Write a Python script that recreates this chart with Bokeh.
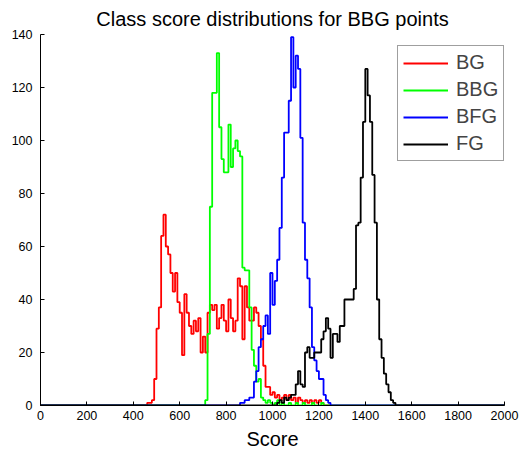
import numpy as np
from bokeh.plotting import figure
from bokeh.models import Range1d, FixedTicker, Legend, LegendItem
from bokeh.embed import file_html
from bokeh.resources import INLINE

# ---- data (histogram counts, bin width 10) ----
bin_width = 10
x_ticks = list(range(0, 2001, 200))
y_ticks = list(range(0, 141, 20))

series_names = ["BG", "BBG", "BFG", "FG"]

bg_start = 460
bg_counts = [1, 1, 2, 10, 29, 37, 64, 72, 60, 57, 50, 43, 50, 39, 35, 19, 42, 35, 30, 27,
             32, 28, 33, 20, 26, 20, 35, 38, 36, 38, 29, 33, 38, 32, 28, 40, 33, 28, 32, 48,
             45, 25, 45, 37, 32, 32, 37, 35, 30, 25, 15, 7, 7, 4, 5, 3, 4, 2, 3, 4,
             2, 4, 2, 3, 1, 3, 2, 1, 2, 1, 2, 1, 2, 1, 2, 1]

bbg_start = 710
bbg_counts = [2, 27, 75, 118, 118, 133, 105, 93, 88, 88, 106, 90, 97, 100, 96, 94, 52, 51, 51, 37,
              21, 15, 9, 10, 3, 2, 1, 2, 1, 0, 1, 2, 0, 1, 0, 0, 1, 0, 0, 1,
              0, 0, 1, 0, 0, 0, 1, 0, 0, 0, 1, 0, 0, 0]

bfg_start = 860
bfg_counts = [1, 1, 2, 2, 3, 3, 9, 13, 22, 25, 30, 34, 27, 50, 38, 47, 55, 67, 86, 103,
              103, 115, 139, 120, 132, 127, 101, 69, 55, 48, 37, 22, 17, 13, 10, 10, 4, 2, 1]

fg_start = 1020
fg_counts = [1, 2, 1, 3, 2, 3, 4, 4, 8, 13, 8, 7, 20, 22, 18, 18, 20, 20, 20, 25,
             28, 33, 29, 18, 27, 27, 24, 30, 30, 40, 40, 40, 40, 44, 68, 69, 86, 107, 127, 117,
             107, 87, 69, 40, 25, 18, 12, 8, 5, 2, 1]

colors = ["#ff0000", "#00ff00", "#0000ff", "#000000"]
starts = [bg_start, bbg_start, bfg_start, fg_start]
counts_list = [bg_counts, bbg_counts, bfg_counts, fg_counts]

edges = np.arange(0, 2000, bin_width)

FONT = "Liberation Sans"

p = figure(frame_width=464, frame_height=371,
           x_range=Range1d(0, 2000), y_range=Range1d(0, 140),
           min_border_left=40, min_border_right=26, min_border_top=33, min_border_bottom=50,
           toolbar_location=None, output_backend="svg",
           title="Class score distributions for BBG points")

p.title.align = "center"
p.title.text_font = FONT
p.title.text_font_size = "20px"
p.title.text_font_style = "normal"
p.title.text_color = "#000000"

renderers = []
for name, c, st, cnt in zip(series_names, colors, starts, counts_list):
    y = np.zeros(len(edges))
    i0 = st // bin_width
    y[i0:i0 + len(cnt)] = cnt
    xs = list(edges) + [2000]
    ys = list(y) + [0]
    r = p.step(x=xs, y=ys, mode="after", line_color=c, line_width=1.8)
    renderers.append(r)

for ax in (p.xaxis[0], p.yaxis[0]):
    ax.axis_line_color = "#000000"
    ax.major_tick_line_color = "#000000"
    ax.major_tick_in = 4
    ax.major_tick_out = 0
    ax.minor_tick_line_color = None
    ax.major_label_text_font = FONT
    ax.major_label_text_font_size = "12.5px"
    ax.major_label_text_color = "#000000"

p.xaxis[0].ticker = FixedTicker(ticks=x_ticks)
p.yaxis[0].ticker = FixedTicker(ticks=y_ticks)
p.xaxis[0].major_label_standoff = 5
p.yaxis[0].major_label_standoff = 8
p.xaxis[0].axis_label = "Score"
p.xaxis[0].axis_label_text_font = FONT
p.xaxis[0].axis_label_text_font_size = "20px"
p.xaxis[0].axis_label_text_font_style = "normal"
p.xaxis[0].axis_label_text_color = "#000000"
p.xaxis[0].axis_label_standoff = 5

p.xgrid.grid_line_color = None
p.ygrid.grid_line_color = None
p.outline_line_color = None

legend = Legend(items=[LegendItem(label=n, renderers=[r]) for n, r in zip(series_names, renderers)],
                location=(357, 244))
legend.label_text_font = FONT
legend.label_text_font_size = "20px"
legend.glyph_width = 45
legend.glyph_height = 20
legend.label_height = 20
legend.label_standoff = 8
legend.spacing = 4
legend.padding = 5
legend.margin = 0
legend.border_line_color = "#404040"
legend.border_line_width = 1
legend.background_fill_color = "#ffffff"
legend.background_fill_alpha = 1.0
p.add_layout(legend, "center")

open("out.html", "w").write(file_html(p, INLINE))
